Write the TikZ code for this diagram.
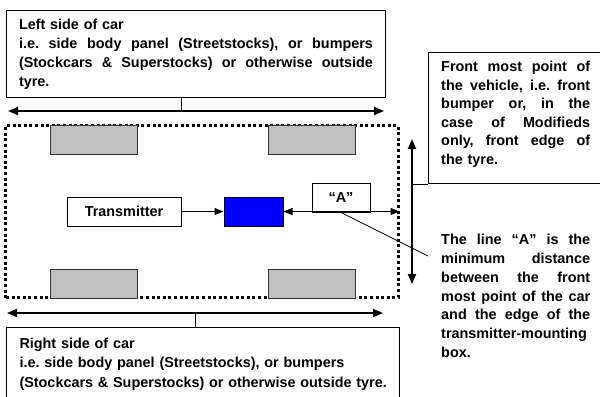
\documentclass[tikz,border=0pt]{standalone}
\usepackage{fontspec}
\setmainfont{Liberation Sans}
\usetikzlibrary{arrows.meta}
\definecolor{boxblue}{RGB}{0,0,255}
\definecolor{wheelgray}{RGB}{192,192,192}
\newcommand\jline[2]{\leavevmode\hbox to #1{#2}}
\begin{document}
\begin{tikzpicture}[x=1bp,y=-1bp,
  lbl/.style={font=\bfseries\frenchspacing\fontsize{14.4bp}{19bp}\selectfont},
  sidebox/.style={lbl, draw, line width=1bp, align=left, anchor=north west, inner xsep=12.5bp},
  plainbox/.style={draw, line width=1bp, anchor=north west, inner sep=0},
  wheel/.style={draw=black!80, line width=0.9bp, fill=wheelgray, minimum width=87bp, minimum height=29bp, inner sep=0},
  smallbox/.style={lbl, draw, line width=1bp, minimum height=29bp, inner sep=0},
  carbody/.style={draw, line width=3bp, dash pattern=on 3bp off 2.6bp, minimum width=392bp, minimum height=172bp, inner sep=0},
  bigarrow/.style={line width=1.8bp, arrows={Triangle[length=10bp,width=8bp]-Triangle[length=10bp,width=8bp]}},
  thin/.style={line width=1bp},
]
\clip (0,0) rectangle (600,396);
% car outline and wheels
\node[carbody] (car) at (202,211.5) {};
\node[wheel] (w1) at (93.5,139.5) {};
\node[wheel] (w2) at (311.5,139.5) {};
\node[wheel] (w3) at (93.5,283.5) {};
\node[wheel] (w4) at (311.5,283.5) {};
% inner boxes
\node[smallbox, minimum width=114bp] (tx) at (124,211.5) {Transmitter};
\node[smallbox, fill=boxblue, minimum width=59bp] (tbox) at (253.5,211.5) {};
\node[smallbox, minimum width=58bp] (abox) at (341,197.5) {“A”};
\draw[thin, -{Triangle[length=9bp,width=7bp]}] (tx) -- (tbox);
\draw[thin, {Triangle[length=9bp,width=7bp]}-{Triangle[length=9bp,width=7bp]}] (tbox) -- (car.east);
\coordinate (leadend) at (428,256);
\draw[line width=0.8bp] (abox.south) -- (leadend);
% left side
\node[sidebox, text width=354bp, inner ysep=8.25bp] (leftbox) at (6,10)
  {Left side of car\\
   \jline{354bp}{i.e.\hfill side\hfill body\hfill panel\hfill (Streetstocks),\hfill or\hfill bumpers}\\
   \jline{354bp}{(Stockcars\hfill \&\hfill Superstocks)\hfill or\hfill otherwise\hfill outside}\\
   tyre.};
\coordinate (lsl) at (8,111);
\coordinate (lsr) at (384,111);
\coordinate (lstem) at (181,111);
\draw[bigarrow] (lsl) -- (lsr);
\draw[thin] (leftbox.south -| lstem) -- (lstem);
% right side
\node[sidebox, text width=367bp, inner xsep=13bp, inner ysep=10.5bp,
      font=\bfseries\frenchspacing\fontsize{14.4bp}{19.5bp}\selectfont] (rightbox) at (6,327)
  {\mbox{Right side of car}\\
   \mbox{i.e. side body panel (Streetstocks), or bumpers}\\
   \mbox{(Stockcars \& Superstocks) or otherwise outside tyre.}};
\coordinate (rsl) at (7,313);
\coordinate (rsr) at (383,313);
\coordinate (rstem) at (195,313);
\draw[bigarrow] (rsl) -- (rsr);
\draw[thin] (rightbox.north -| rstem) -- (rstem);
% front
\node[plainbox, minimum width=176bp, minimum height=131bp] (frontbox) at (428,52) {};
\node[lbl, font=\bfseries\frenchspacing\fontsize{14.4bp}{18.5bp}\selectfont, align=left, text width=149bp, inner sep=0, anchor=north west] (fronttext) at (441,61)
  {\jline{149bp}{Front\hfill most\hfill point\hfill of}\\
   \jline{149bp}{the\hfill vehicle,\hfill i.e.\hfill front}\\
   \jline{149bp}{bumper\hfill or,\hfill in\hfill the}\\
   \jline{149bp}{case\hfill of\hfill Modifieds}\\
   \jline{149bp}{only,\hfill front\hfill edge\hfill of}\\
   the tyre.};
\coordinate (vt) at (412,139);
\coordinate (vb) at (412,284);
\draw[bigarrow] (vt) -- (vb);
\draw[thin] (frontbox.south west) -- (frontbox.south west -| vt);
% note on A
\node[lbl, font=\bfseries\frenchspacing\fontsize{14.4bp}{18.8bp}\selectfont, align=left, text width=149bp, inner sep=0, anchor=north west] (anote) at (441,234)
  {\jline{149bp}{The\hfill line\hfill “A”\hfill is\hfill the}\\
   \jline{149bp}{minimum\hfill distance}\\
   \jline{149bp}{between\hfill the\hfill front}\\
   \jline{149bp}{most\hfill point\hfill of\hfill the\hfill car}\\
   \jline{149bp}{and\hfill the\hfill edge\hfill of\hfill the}\\
   \jline{149bp}{transmitter-mounting\hfill}\\
   box.};
\end{tikzpicture}
\end{document}
